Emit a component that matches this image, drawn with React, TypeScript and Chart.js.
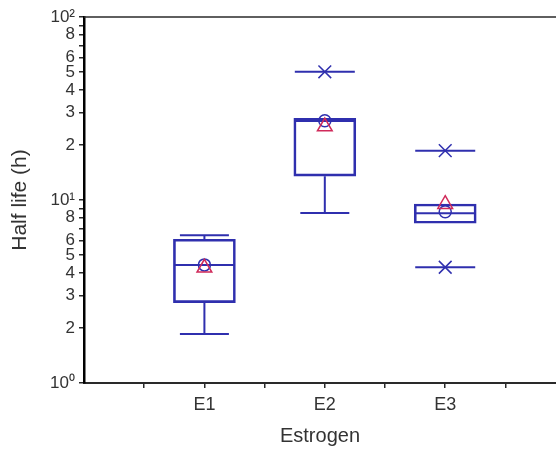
import React, { useEffect, useRef } from 'react';
import { Chart, registerables } from 'chart.js';

Chart.register(...registerables);

const categories = ['E1', 'E2', 'E3'];
const positions = [2, 4, 6];
const q1 = [2.75, 13.5, 7.46];
const median = [4.41, 27.0, 8.46];
const q3 = [6.1, 27.9, 9.51];
const whiskerLow: (number | null)[] = [1.85, 8.49, null];
const whiskerHigh: (number | null)[] = [6.41, null, null];
const extremeHigh: (number | null)[] = [null, 50.2, 18.6];
const extremeLow: (number | null)[] = [null, null, 4.29];
const means = [4.42, 27.1, 8.63];
const triangleValues = [4.26, 25.2, 9.49];
const yTickValues = [1, 2, 3, 4, 5, 6, 7, 8, 9, 10, 20, 30, 40, 50, 60, 70, 80, 90, 100];
const yTickLabels = ['10⁰', '2', '3', '4', '5', '6', '', '8', '', '10¹', '2', '3', '4', '5', '6', '', '8', '', '10²'];
const xTickValues = [1, 2, 3, 4, 5, 6, 7];

const BLUE = '#2f2fae';
const RED = '#d02a5a';
const AXIS = '#2a2a2a';
const TEXT = '#333333';
const FONT = '"Liberation Sans", Arial, sans-serif';

function pts(values: (number | null)[]) {
  const out: { x: number; y: number }[] = [];
  positions.forEach((x, i) => {
    const v = values[i];
    if (v !== null && v !== undefined) out.push({ x, y: v });
  });
  return out;
}

const frameTop = {
  id: 'frameTop',
  afterDraw(chart: any) {
    const { ctx, chartArea } = chart;
    ctx.save();
    ctx.strokeStyle = AXIS;
    ctx.lineWidth = 1.5;
    ctx.beginPath();
    ctx.moveTo(chartArea.left, chartArea.top);
    ctx.lineTo(chartArea.right, chartArea.top);
    ctx.stroke();
    ctx.restore();
  },
};

export default function App() {
  const ref = useRef<HTMLCanvasElement | null>(null);

  useEffect(() => {
    if (!ref.current) return;

    const segs: any[] = [];
    positions.forEach((x, i) => {
      const hi = whiskerHigh[i];
      const lo = whiskerLow[i];
      if (hi !== null) segs.push([{ x, y: q3[i] }, { x, y: hi }]);
      if (lo !== null) segs.push([{ x, y: q1[i] }, { x, y: lo }]);
    });

    const whiskerDatasets = segs.map((data, k) => ({
      type: 'scatter',
      label: 'whisker' + k,
      data,
      showLine: true,
      borderColor: BLUE,
      borderWidth: 2,
      pointRadius: 0,
      order: 6,
    }));

    const caps = [...pts(whiskerHigh), ...pts(whiskerLow)];
    const extremes = [...pts(extremeHigh), ...pts(extremeLow)];

    const chart = new Chart(ref.current, {
      type: 'bar',
      data: {
        datasets: [
          {
            type: 'scatter',
            label: 'triangle',
            data: pts(triangleValues),
            pointStyle: 'triangle',
            pointRadius: 8.5,
            borderColor: RED,
            backgroundColor: 'rgba(0,0,0,0)',
            borderWidth: 1.5,
            order: 0,
          },
          {
            type: 'scatter',
            label: 'mean',
            data: pts(means),
            pointStyle: 'circle',
            pointRadius: 6,
            borderColor: BLUE,
            backgroundColor: 'rgba(0,0,0,0)',
            borderWidth: 1.5,
            order: 1,
          },
          {
            type: 'scatter',
            label: 'extreme X',
            data: extremes,
            pointStyle: 'crossRot',
            pointRadius: 9,
            borderColor: BLUE,
            borderWidth: 1.5,
            order: 2,
          },
          {
            type: 'scatter',
            label: 'extreme line',
            data: extremes,
            pointStyle: 'line',
            pointRadius: 30,
            borderColor: BLUE,
            borderWidth: 2,
            order: 3,
          },
          {
            type: 'scatter',
            label: 'median',
            data: pts(median),
            pointStyle: 'line',
            pointRadius: 30,
            borderColor: BLUE,
            borderWidth: 2,
            order: 4,
          },
          {
            type: 'scatter',
            label: 'caps',
            data: caps,
            pointStyle: 'line',
            pointRadius: 24.5,
            borderColor: BLUE,
            borderWidth: 2,
            order: 5,
          },
          ...whiskerDatasets,
          {
            type: 'bar',
            label: 'box',
            data: positions.map((x, i) => ({ x, y: [q1[i], q3[i]] })),
            borderColor: BLUE,
            backgroundColor: 'rgba(0,0,0,0)',
            borderWidth: 2,
            borderSkipped: false,
            barThickness: 62,
            grouped: false,
            order: 7,
          },
        ] as any,
      },
      options: {
        responsive: false,
        animation: false,
        events: [],
        layout: { autoPadding: false, padding: { top: 17, left: 0, right: 0, bottom: 0 } },
        plugins: {
          legend: { display: false },
          tooltip: { enabled: false },
        },
        scales: {
          x: {
            type: 'linear',
            offset: false,
            min: 0,
            max: 7.84,
            afterBuildTicks: (scale: any) => {
              scale.ticks = xTickValues.map((v) => ({ value: v }));
            },
            afterFit: (scale: any) => {
              scale.height = 67;
            },
            ticks: {
              autoSkip: false,
              maxRotation: 0,
              padding: 6,
              color: TEXT,
              font: { family: FONT, size: 18 },
              callback: (value: any) => {
                const idx = positions.indexOf(Number(value));
                return idx >= 0 ? categories[idx] : '';
              },
            },
            grid: {
              drawOnChartArea: false,
              drawTicks: true,
              tickLength: 5,
              color: AXIS,
              lineWidth: 1.5,
              offset: false,
            },
            border: { color: AXIS, width: 2 },
            title: {
              display: true,
              text: 'Estrogen',
              color: TEXT,
              font: { family: FONT, size: 20 },
              padding: { top: 0, bottom: 2 },
            },
          },
          y: {
            type: 'logarithmic',
            min: 1,
            max: 100,
            afterBuildTicks: (scale: any) => {
              scale.ticks = yTickValues.map((v) => ({ value: v }));
            },
            afterFit: (scale: any) => {
              scale.width = 84;
            },
            ticks: {
              autoSkip: false,
              padding: 4,
              color: TEXT,
              font: { family: FONT, size: 17 },
              callback: (value: any) => {
                const idx = yTickValues.indexOf(Number(value));
                return idx >= 0 ? yTickLabels[idx] : '';
              },
            },
            grid: {
              drawOnChartArea: false,
              drawTicks: true,
              tickLength: 5,
              color: AXIS,
              lineWidth: 1.5,
            },
            border: { color: '#000', width: 2.5 },
            title: {
              display: true,
              text: 'Half life (h)',
              color: TEXT,
              font: { family: FONT, size: 21 },
              padding: { top: 8, bottom: 0 },
            },
          },
        },
      } as any,
      plugins: [frameTop],
    });

    return () => chart.destroy();
  }, []);

  return (
    <div style={{ position: 'absolute', left: 0, top: 0, width: 556, height: 450, background: '#fff' }}>
      <canvas ref={ref} width={556} height={450} style={{ display: 'block', width: 556, height: 450 }} />
    </div>
  );
}
